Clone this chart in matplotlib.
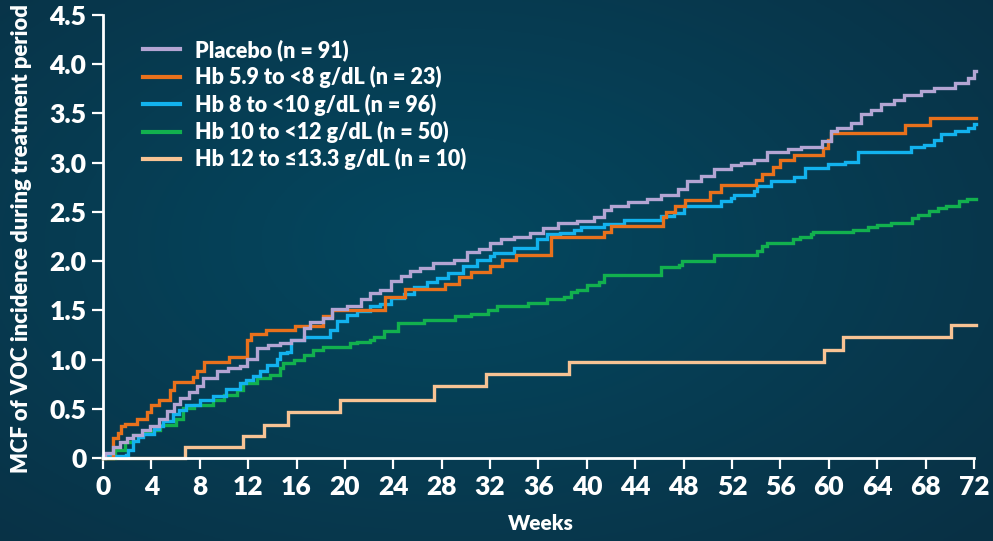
import numpy as np
import matplotlib
matplotlib.use("Agg")
import matplotlib.pyplot as plt
from matplotlib.lines import Line2D

plt.rcParams['font.family'] = ['Lato', 'DejaVu Sans']
plt.rcParams['font.weight'] = 'bold'

# step-function MCF curves: jump times (weeks) and value after each jump
placebo_t = [0, 0.2, 0.85, 1.4, 2.0, 2.5, 3.2, 3.9, 4.6, 5.3, 5.9, 6.4, 7.1, 7.8, 8.3, 9.4, 10.3,
             11.3, 11.9, 12.7, 13.6, 14.65, 15.5, 16.6, 17.1, 18.2, 18.9, 20.2, 21.3, 22.1, 22.9,
             23.8, 24.6, 25.4, 26.2, 27.3, 29.0, 30.1, 31.1, 32.0, 32.9, 34.0, 35.3, 36.4, 37.6,
             39.2, 40.6, 41.4, 42.0, 43.4, 45.0, 46.1, 47.5, 48.3, 49.4, 50.5, 51.9, 52.7, 53.8,
             54.9, 56.6, 57.7, 59.4, 60.2, 60.7, 61.8, 62.7, 63.5, 64.3, 65.4, 66.2, 67.6, 68.7,
             70.4, 71.5, 72.0]
placebo_v = [0, 0.05, 0.11, 0.16, 0.2, 0.23, 0.28, 0.33, 0.4, 0.48, 0.55, 0.61, 0.67, 0.73, 0.81,
             0.88, 0.91, 0.93, 1.01, 1.12, 1.15, 1.17, 1.2, 1.32, 1.38, 1.42, 1.51, 1.54, 1.62, 1.68,
             1.71, 1.80, 1.85, 1.90, 1.93, 1.98, 2.01, 2.09, 2.12, 2.18, 2.22, 2.25, 2.29, 2.34,
             2.39, 2.41, 2.45, 2.52, 2.56, 2.60, 2.63, 2.67, 2.73, 2.81, 2.86, 2.94, 2.98, 3.0,
             3.03, 3.11, 3.14, 3.16, 3.22, 3.32, 3.35, 3.40, 3.49, 3.54, 3.60, 3.64, 3.69, 3.73,
             3.76, 3.81, 3.86, 3.93]

hb59_t = [0, 0.85, 1.2, 1.46, 1.8, 2.8, 3.6, 4.0, 4.6, 5.5, 5.9, 7.4, 7.75, 8.35, 10.4, 11.9,
          12.2, 13.5, 15.9, 18.2, 18.9, 23.3, 25.0, 28.3, 29.4, 30.4, 32.0, 33.0, 34.1, 37.0,
          41.4, 42.0, 46.3, 46.5, 47.3, 48.1, 50.2, 51.1, 54.0, 54.5, 55.4, 56.0, 57.1, 59.5,
          59.9, 60.2, 66.3, 68.4]
hb59_v = [0, 0.2, 0.25, 0.32, 0.35, 0.40, 0.47, 0.54, 0.59, 0.69, 0.77, 0.82, 0.88, 0.98, 1.03,
          1.2, 1.26, 1.30, 1.34, 1.44, 1.505, 1.64, 1.72, 1.77, 1.84, 1.885, 1.95, 2.01, 2.065,
          2.245, 2.30, 2.36, 2.45, 2.50, 2.56, 2.62, 2.70, 2.77, 2.82, 2.88, 2.96, 3.03, 3.08,
          3.15, 3.235, 3.30, 3.38, 3.455]

hb8_t = [0, 1.9, 2.1, 2.5, 2.9, 3.3, 4.2, 4.6, 5.0, 5.8, 6.3, 6.9, 8.0, 9.1, 10.2, 11.3, 11.8,
         12.4, 13.0, 13.55, 14.4, 14.65, 15.2, 15.5, 16.6, 18.8, 19.35, 20.2, 21.0, 22.1, 22.9,
         23.8, 24.9, 25.7, 26.8, 27.6, 28.5, 29.8, 30.9, 32.0, 32.3, 34.0, 35.9, 36.7, 37.8,
         38.9, 39.5, 41.4, 43.1, 46.1, 47.2, 48.0, 51.1, 51.9, 52.2, 53.8, 54.1, 55.2, 57.1,
         58.0, 59.9, 61.3, 62.4, 66.8, 67.9, 68.7, 69.3, 70.4, 71.5, 72.0]
hb8_v = [0.02, 0.03, 0.08, 0.17, 0.21, 0.24, 0.29, 0.33, 0.38, 0.45, 0.49, 0.54, 0.59, 0.625,
         0.70, 0.765, 0.79, 0.835, 0.88, 0.94, 1.01, 1.065, 1.08, 1.2, 1.23, 1.30, 1.39, 1.455,
         1.49, 1.54, 1.56, 1.625, 1.67, 1.74, 1.79, 1.83, 1.88, 1.95, 2.01, 2.055, 2.08, 2.13,
         2.22, 2.28, 2.29, 2.32, 2.35, 2.38, 2.42, 2.46, 2.49, 2.56, 2.61, 2.64, 2.675, 2.71,
         2.76, 2.81, 2.855, 2.95, 2.99, 3.01, 3.105, 3.16, 3.18, 3.235, 3.29, 3.32, 3.35, 3.39]

hb10_t = [0, 1.0, 1.8, 2.5, 3.3, 4.2, 4.7, 6.0, 6.65, 7.5, 9.1, 10.0, 11.1, 11.6, 12.7, 13.8,
          14.65, 14.9, 15.75, 16.6, 17.4, 18.2, 20.4, 21.0, 22.1, 22.4, 23.2, 24.4, 26.5, 29.1,
          30.4, 31.8, 32.6, 35.1, 36.7, 38.1, 38.7, 39.2, 40.0, 41.0, 41.4, 46.1, 47.6, 47.9,
          50.5, 54.1, 54.5, 54.9, 57.0, 57.6, 58.5, 58.7, 62.0, 63.2, 64.0, 65.1, 66.9, 67.4,
          68.3, 69.0, 69.7, 70.8, 71.4]
hb10_v = [0, 0.08, 0.166, 0.23, 0.27, 0.285, 0.335, 0.40, 0.505, 0.54, 0.59, 0.64, 0.69, 0.76,
          0.81, 0.845, 0.91, 0.96, 1.0, 1.05, 1.10, 1.13, 1.17, 1.18, 1.20, 1.23, 1.285, 1.37,
          1.40, 1.445, 1.465, 1.505, 1.54, 1.57, 1.615, 1.64, 1.69, 1.71, 1.76, 1.79, 1.86, 1.94,
          1.96, 2.0, 2.065, 2.10, 2.15, 2.18, 2.22, 2.25, 2.28, 2.30, 2.32, 2.35, 2.37, 2.39,
          2.44, 2.47, 2.505, 2.54, 2.56, 2.61, 2.63]

hb12_t = [0, 6.8, 11.6, 13.3, 15.3, 19.6, 27.4, 31.7, 38.5, 59.6, 61.2, 70.1]
hb12_v = [0, 0.115, 0.22, 0.34, 0.47, 0.59, 0.735, 0.85, 0.98, 1.10, 1.23, 1.35]

labels = ["Placebo (n = 91)", "Hb 5.9 to <8 g/dL (n = 23)", "Hb 8 to <10 g/dL (n = 96)",
          "Hb 10 to <12 g/dL (n = 50)", "Hb 12 to \u226413.3 g/dL (n = 10)"]
colors = ["#B3A5D3", "#E8711C", "#12B2EE", "#12B04E", "#F7C394"]
series = [(placebo_t, placebo_v), (hb59_t, hb59_v), (hb8_t, hb8_v),
          (hb10_t, hb10_v), (hb12_t, hb12_v)]

W, H = 993, 541
fig = plt.figure(figsize=(W / 100, H / 100), dpi=100)

# dark teal background, lighter toward the middle
bg = fig.add_axes([0, 0, 1, 1])
yy, xx = np.mgrid[0:1:200j, 0:1:360j]
r = np.sqrt(((xx - 0.45) / 0.75) ** 2 + ((yy - 0.45) / 0.8) ** 2)
r = np.clip(r, 0, 1)
c0 = np.array([4, 72, 96]) / 255
c1 = np.array([9, 48, 68]) / 255
img = c0[None, None, :] * (1 - r[..., None]) + c1[None, None, :] * r[..., None]
bg.imshow(img, aspect="auto", extent=[0, 1, 0, 1], origin="upper")
bg.axis("off")

ax = fig.add_axes([103 / W, 1 - 458 / H, 871 / W, 443 / H])
ax.patch.set_alpha(0)

for (t, v), c, lab in reversed(list(zip(series, colors, labels))):
    tt = np.append(t, 72.2)
    vv = np.append(v, v[-1])
    ax.step(tt, vv, where="post", color=c, lw=2.4, label=lab, clip_on=False,
            solid_joinstyle="miter")

ax.set_xlim(0, 72)
ax.set_ylim(0, 4.5)
ax.set_xticks(np.arange(0, 73, 4))
ax.set_yticks(np.arange(0, 4.51, 0.5))
ax.set_yticklabels(["0"] + [f"{y:.1f}" for y in np.arange(0.5, 4.51, 0.5)])
for s in ["top", "right"]:
    ax.spines[s].set_visible(False)
for s in ["left", "bottom"]:
    ax.spines[s].set_color("white")
    ax.spines[s].set_linewidth(2)
ax.tick_params(colors="white", width=1.6, length=8, labelsize=19)
ax.tick_params(axis="x", pad=4)
ax.tick_params(axis="y", pad=4)
for lbl in ax.get_xticklabels() + ax.get_yticklabels():
    lbl.set_fontweight("heavy")

handles = [Line2D([], [], color=c, lw=3) for c in colors]
leg = ax.legend(handles, labels, loc="upper left", bbox_to_anchor=(0.036, 0.965),
                frameon=False, fontsize=15.5, handlelength=1.72, handletextpad=0.68,
                labelspacing=0.245, borderaxespad=0)
for txt in leg.get_texts():
    txt.set_color("white")
    txt.set_fontweight("heavy")

fig.text(22 / W, 1 - 239 / H, "MCF of VOC incidence during treatment period", rotation=90,
         ha="center", va="center", color="white", fontsize=15.8, fontweight="heavy")
fig.text(541 / W, 1 - 524 / H, "Weeks", ha="center", va="center", color="white",
         fontsize=15, fontweight="heavy")

fig.savefig("out.png", dpi=100)
